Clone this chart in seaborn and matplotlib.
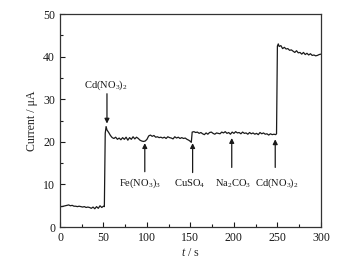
import matplotlib
matplotlib.use("Agg")
import matplotlib.pyplot as plt
import seaborn as sns
import pandas as pd
from matplotlib.ticker import MultipleLocator

# time (s) and current (uA)
time_s = [0, 2, 4, 6, 8, 10, 12, 14, 16, 18, 20, 22, 24, 26, 28, 30, 32, 34, 36, 38,
          40, 42, 44, 46, 48, 50, 51,
          52, 53, 54, 56, 58, 60, 62, 64, 66, 68, 70, 72, 74, 76, 78, 80, 82, 84, 86,
          88, 90, 92, 94, 96, 98, 100, 102, 104, 106, 108, 110, 112, 114, 116, 118,
          120, 122, 124, 126, 128, 130, 132, 134, 136, 138, 140, 142, 144, 146, 148,
          150, 151,
          152, 154, 156, 158, 160, 162, 164, 166, 168, 170, 172, 174, 176, 178, 180,
          182, 184, 186, 188, 190, 192, 194, 196, 198, 200, 202, 204, 206, 208, 210,
          212, 214, 216, 218, 220, 222, 224, 226, 228, 230, 232, 234, 236, 238, 240,
          242, 244, 246, 248, 249,
          250, 251, 252, 254, 256, 258, 260, 262, 264, 266, 268, 270, 272, 274, 276,
          278, 280, 282, 284, 286, 288, 290, 292, 294, 296, 298, 300]
current = [4.9, 4.8, 4.9, 5.0, 5.1, 5.2, 5.0, 5.1, 4.9, 4.9, 4.8, 4.9, 4.8, 4.7, 4.8,
           4.6, 4.7, 4.6, 4.4, 4.7, 4.3, 4.8, 4.4, 5.0, 4.6, 4.9, 4.8,
           22.0, 23.6, 22.8, 22.2, 21.5, 21.0, 20.8, 21.1, 20.6, 20.9, 20.5, 21.0,
           20.6, 21.1, 20.4, 21.0, 20.6, 21.2, 20.7, 21.1, 20.8, 20.4, 20.2, 20.1,
           20.2, 20.6, 21.4, 21.6, 21.3, 21.5, 21.1, 21.2, 21.0, 21.1, 20.9, 21.1,
           20.8, 21.2, 21.0, 20.9, 20.7, 21.2, 20.9, 21.1, 20.8, 21.0, 20.8, 20.9,
           20.6, 20.4, 20.1, 19.9,
           22.3, 22.4, 22.2, 22.3, 22.0, 22.2, 21.9, 21.7, 22.1, 21.8, 22.2, 22.3,
           22.0, 21.8, 22.1, 22.0, 21.9, 22.3, 22.1, 22.4, 22.0, 22.2, 21.8, 22.3,
           22.0, 22.4, 22.1, 22.2, 21.9, 22.3, 22.0, 22.1, 21.8, 22.2, 21.9, 22.1,
           21.8, 22.0, 21.7, 22.2, 21.9, 22.1, 21.8, 21.9, 21.6, 21.9, 21.7, 21.8,
           21.7, 21.9,
           42.5, 43.0, 42.4, 42.6, 41.9, 42.2, 41.8, 41.9, 41.5, 41.6, 41.3, 41.0,
           41.4, 40.9, 41.0, 40.6, 41.0, 40.5, 40.8, 40.4, 40.7, 40.3, 40.4, 40.2,
           40.3, 40.5, 40.6]

# injections: label, arrow x, arrow tail y, arrow head y, text x, text y
labels = [r'Cd(NO$_3$)$_2$', r'Fe(NO$_3$)$_3$', r'CuSO$_4$', r'Na$_2$CO$_3$', r'Cd(NO$_3$)$_2$']
arrow_x = [54, 97.5, 152.5, 197.5, 247.5]
arrow_tail = [31.3, 13.0, 12.8, 14.0, 14.0]
arrow_head = [24.3, 19.7, 19.7, 20.9, 20.6]
text_x = [53, 92, 149.5, 199, 249]
text_y = [33.4, 10.2, 10.2, 10.2, 10.2]

df = pd.DataFrame({'t': time_s, 'I': current})

sns.set_style('ticks')
plt.rcParams['font.family'] = ['Liberation Serif', 'DejaVu Serif']
plt.rcParams['mathtext.fontset'] = 'custom'
plt.rcParams['mathtext.rm'] = 'Liberation Serif'
plt.rcParams['mathtext.it'] = 'Liberation Serif:italic'
plt.rcParams['mathtext.default'] = 'regular'

fig = plt.figure(figsize=(3.53, 2.61), dpi=100)
ax = fig.add_axes([0.170, 0.130, 0.739, 0.816])
sns.lineplot(data=df, x='t', y='I', ax=ax, color='#1a1a1a', linewidth=0.9)

for i in range(len(labels)):
    ax.annotate('', xy=(arrow_x[i], arrow_head[i]), xytext=(arrow_x[i], arrow_tail[i]),
                arrowprops=dict(arrowstyle='-|>', color='#1a1a1a', lw=0.9,
                                mutation_scale=7, shrinkA=0, shrinkB=0))
    ax.text(text_x[i], text_y[i], labels[i], ha='center', va='center', fontsize=7.6,
            color='#1a1a1a')

ax.set_xlim(0, 300)
ax.set_ylim(0, 50)
ax.xaxis.set_major_locator(MultipleLocator(50))
ax.xaxis.set_minor_locator(MultipleLocator(25))
ax.yaxis.set_major_locator(MultipleLocator(10))
ax.yaxis.set_minor_locator(MultipleLocator(5))
ax.tick_params(which='both', direction='in', labelsize=8.6, colors='#1a1a1a')
ax.tick_params(which='major', length=3.5, width=0.8)
ax.tick_params(which='minor', length=2, width=0.8)
ax.set_xlabel(r'$\mathit{t}$ / s', fontsize=8.6, labelpad=2)
ax.set_ylabel('Current / μA', fontsize=8.6, labelpad=4)
for s in ax.spines.values():
    s.set_linewidth(0.9)
    s.set_color('#333333')

fig.savefig('out.png', dpi=100)
